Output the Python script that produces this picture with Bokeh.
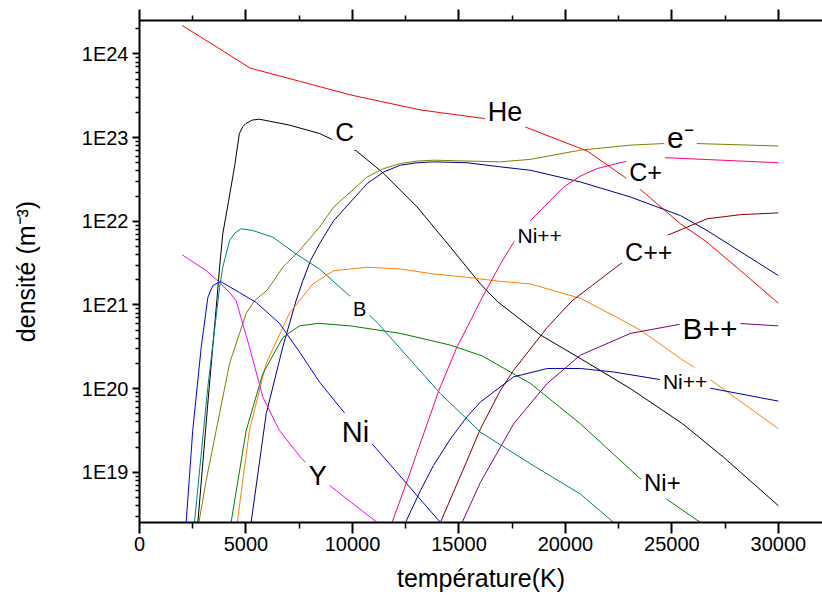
from bokeh.plotting import figure
from bokeh.models import Label, LinearAxis, FixedTicker
from bokeh.embed import file_html
from bokeh.resources import INLINE

# ---------------- data (temperature K, density m^-3) ----------------
he_T = [2000, 3650, 5200, 7560, 9900, 13200, 16100, 18080, 21020, 22770, 23520, 25400, 26650, 28220, 30000]
he_n = [2.19e24, 1.20e24, 6.76e23, 4.68e23, 3.24e23, 2.14e23, 1.70e23, 1.35e23, 6.92e22, 3.39e22, 2.40e22, 9.33e21, 5.62e21, 2.57e21, 1.05e21]

c_T = [2740, 3200, 3630, 3760, 3910, 4190, 4460, 4690, 4850, 5000, 5300, 5630, 7040, 8450, 10190, 11470, 13040, 14600, 16010, 16800, 18830, 20700, 23050, 25500, 27430, 30000]
c_n = [2.51e18, 6.31e19, 1.12e21, 2.82e21, 7.08e21, 1.78e22, 4.47e22, 1.12e23, 1.35e23, 1.48e23, 1.62e23, 1.66e23, 1.41e23, 1.12e23, 6.92e22, 3.72e22, 1.48e22, 4.90e21, 1.78e21, 1.10e21, 4.37e20, 2.29e20, 1.00e20, 3.80e19, 1.51e19, 3.98e18]

e_T = [2790, 3130, 3600, 4230, 5010, 5400, 6000, 6730, 7510, 8450, 9120, 10690, 11470, 12250, 13040, 13820, 15380, 16950, 18360, 20700, 23050, 24700, 26020, 30000]
e_n = [2.51e18, 7.94e18, 3.16e19, 2.00e20, 7.94e20, 1.12e21, 1.51e21, 2.82e21, 4.47e21, 8.51e21, 1.48e22, 3.39e22, 4.27e22, 4.90e22, 5.25e22, 5.37e22, 5.25e22, 5.13e22, 5.50e22, 7.08e22, 8.13e22, 8.51e22, 8.51e22, 7.94e22]

navy_T = [5240, 5950, 6730, 7350, 7670, 8030, 8450, 9120, 10690, 11470, 12250, 13040, 13820, 15380, 16950, 18360, 20700, 23050, 25400, 26650, 30000]
navy_n = [2.51e18, 5.01e19, 3.16e20, 1.12e21, 1.95e21, 3.39e21, 5.37e21, 1.02e22, 2.82e22, 3.89e22, 4.68e22, 5.01e22, 5.13e22, 5.01e22, 4.47e22, 4.07e22, 2.95e22, 1.95e22, 1.17e22, 7.76e21, 2.24e21]

b_T = [2580, 3200, 3760, 3910, 4230, 4480, 4770, 5320, 6260, 7350, 8450, 9900, 11190, 14130, 16010, 18360, 20700, 22270]
b_n = [2.51e18, 1.00e20, 1.62e21, 2.82e21, 5.89e21, 7.24e21, 8.13e21, 7.76e21, 6.46e21, 4.07e21, 2.69e21, 1.26e21, 6.03e20, 8.71e19, 3.02e19, 1.26e19, 5.50e18, 2.51e18]

orange_T = [4590, 5160, 5950, 7040, 8140, 9120, 10690, 12250, 13820, 15380, 16950, 18360, 20700, 22580, 23520, 25400, 26020, 26730, 30000]
orange_n = [2.51e18, 3.16e19, 2.00e20, 7.94e20, 1.78e21, 2.57e21, 2.82e21, 2.69e21, 2.34e21, 2.14e21, 1.91e21, 1.78e21, 1.20e21, 6.76e20, 5.01e20, 2.29e20, 1.82e20, 1.32e20, 3.31e19]

nip_T = [4300, 5010, 5790, 6730, 7510, 8400, 9900, 12250, 14600, 16100, 18360, 20700, 23440, 24800, 26340]
nip_n = [2.51e18, 3.16e19, 1.51e20, 4.07e20, 5.62e20, 6.03e20, 5.62e20, 4.57e20, 3.31e20, 2.45e20, 1.15e20, 3.80e19, 8.71e18, 4.68e18, 2.51e18]

ni_T = [2190, 2500, 2900, 3210, 3440, 3800, 4690, 5480, 6570, 7510, 8450, 9590, 10920, 14130]
ni_n = [2.51e18, 3.16e19, 3.16e20, 1.23e21, 1.70e21, 1.91e21, 1.41e21, 1.07e21, 6.03e20, 2.75e20, 1.20e20, 5.25e19, 2.19e19, 2.51e18]

y_T = [2000, 3130, 3760, 4230, 4540, 5160, 5790, 6570, 7560, 8730, 11160]
y_n = [3.98e21, 2.57e21, 1.86e21, 1.41e21, 1.12e21, 3.16e20, 7.94e19, 3.16e19, 1.51e19, 7.59e18, 2.51e18]

cp_T = [11860, 12570, 14060, 14910, 15540, 16010, 16950, 17570, 18360, 19920, 20700, 21490, 22740, 24700, 30000]
cp_n = [2.51e18, 7.94e18, 9.55e19, 3.16e20, 6.46e20, 1.12e21, 3.09e21, 5.62e21, 1.02e22, 2.57e22, 3.47e22, 4.27e22, 5.13e22, 5.75e22, 5.01e22]

cpp_T = [14130, 15380, 16010, 16950, 17570, 19140, 20310, 22580, 24770, 26650, 28220, 30000]
cpp_n = [2.51e18, 1.38e19, 3.31e19, 9.55e19, 1.66e20, 5.37e20, 1.12e21, 3.09e21, 6.76e21, 1.07e22, 1.20e22, 1.26e22]

bpp_T = [15150, 16010, 16950, 17570, 19140, 20700, 23050, 25400, 28060, 30000]
bpp_n = [2.51e18, 7.59e18, 2.00e19, 3.80e19, 1.15e20, 2.51e20, 4.57e20, 5.89e20, 6.03e20, 5.62e20]

nipp_T = [12490, 13190, 13800, 14600, 15400, 16010, 17560, 19150, 20700, 22270, 24380, 26730, 30000]
nipp_n = [2.51e18, 6.03e18, 1.20e19, 2.51e19, 4.68e19, 6.92e19, 1.38e20, 1.74e20, 1.74e20, 1.58e20, 1.29e20, 1.02e20, 7.08e19]

# curve labels and their positions (T, density)
label_texts = ["He", "C", "e\u207b", "C+", "Ni++", "C++", "B", "B++", "Ni++", "Ni", "Y", "Ni+"]
label_T = [17160, 9630, 25400, 23760, 18790, 23910, 10340, 26790, 25620, 10140, 8370, 24550]
label_n = [2.04e23, 1.17e23, 1.00e23, 3.89e22, 6.76e21, 4.27e21, 8.91e20, 5.25e20, 1.20e20, 3.02e19, 9.12e18, 7.59e18]

x_ticks = [0, 5000, 10000, 15000, 20000, 25000, 30000]
x_minor_ticks = [2500, 7500, 12500, 17500, 22500, 27500]
y_ticks = [1e19, 1e20, 1e21, 1e22, 1e23, 1e24]
y_tick_labels = ["1E19", "1E20", "1E21", "1E22", "1E23", "1E24"]

# ---------------- styles ----------------
series = [
    (he_T, he_n, "#ff0000"),
    (c_T, c_n, "#000000"),
    (e_T, e_n, "#808000"),
    (navy_T, navy_n, "#000080"),
    (b_T, b_n, "#008080"),
    (orange_T, orange_n, "#ff8000"),
    (nip_T, nip_n, "#008000"),
    (ni_T, ni_n, "#0000ff"),
    (y_T, y_n, "#ff00ff"),
    (cp_T, cp_n, "#ff0080"),
    (cpp_T, cpp_n, "#800000"),
    (bpp_T, bpp_n, "#800080"),
    (nipp_T, nipp_n, "#0000a0"),
]
label_sizes = [27, 26, 30, 25, 21, 25, 20, 30, 21, 29, 27, 24]

FONT = "Liberation Sans"

p = figure(width=822, height=602, y_axis_type="log",
           x_range=(0, 32070), y_range=(2.51e18, 2.51e24),
           output_backend="svg", toolbar_location=None,
           min_border_left=139, min_border_top=20, min_border_right=0, min_border_bottom=80)
p.outline_line_color = None
p.xgrid.visible = False
p.ygrid.visible = False
p.background_fill_color = "white"
p.border_fill_color = "white"

for T, n, col in series:
    p.line(T, n, line_color=col, line_width=1)

for txt, tx, ny, fs in zip(label_texts, label_T, label_n, label_sizes):
    p.add_layout(Label(x=tx, y=ny, text=txt, text_align="center", text_baseline="middle",
                       text_font=FONT, text_font_size=f"{fs}px", text_color="black",
                       background_fill_color="white", padding=3))

# x axis (bottom)
xa = p.xaxis[0]
xa.ticker = FixedTicker(ticks=x_ticks, minor_ticks=x_minor_ticks)
xa.axis_label = "température(K)"
xa.axis_label_text_font = FONT
xa.axis_label_text_font_size = "25px"
xa.axis_label_text_font_style = "normal"
xa.axis_label_text_color = "black"
xa.axis_label_standoff = 10
xa.major_label_text_font = FONT
xa.major_label_text_font_size = "20px"
xa.major_label_text_color = "black"
xa.major_label_standoff = 3
xa.axis_line_width = 2
xa.major_tick_line_width = 2
xa.minor_tick_line_width = 1.5
xa.major_tick_out = 11
xa.major_tick_in = 0
xa.minor_tick_out = 6
xa.minor_tick_in = 0

# y axis (left)
ya = p.yaxis[0]
minor = [k * 10.0 ** d for d in range(18, 25) for k in range(2, 10) if 2.51e18 <= k * 10.0 ** d <= 2.51e24]
ya.ticker = FixedTicker(ticks=y_ticks, minor_ticks=minor)
ya.major_label_overrides = dict(zip(y_ticks, y_tick_labels))
ya.axis_label = "densité (m\u207b\u00b3)"
ya.axis_label_text_font = FONT
ya.axis_label_text_font_size = "25px"
ya.axis_label_text_font_style = "normal"
ya.axis_label_text_color = "black"
ya.axis_label_standoff = 39
ya.major_label_text_font = FONT
ya.major_label_text_font_size = "20px"
ya.major_label_text_color = "black"
ya.major_label_standoff = 4
ya.axis_line_width = 2
ya.major_tick_line_width = 2
ya.minor_tick_line_width = 1.5
ya.major_tick_out = 7
ya.major_tick_in = 0
ya.minor_tick_out = 4
ya.minor_tick_in = 0

# top axis (ticks only, no labels)
top = LinearAxis(ticker=FixedTicker(ticks=x_ticks, minor_ticks=x_minor_ticks),
                 major_label_text_color=None, major_label_standoff=0,
                 axis_line_width=2, major_tick_line_width=2, minor_tick_line_width=1.5,
                 major_tick_out=11, major_tick_in=0, minor_tick_out=5, minor_tick_in=0)
p.add_layout(top, "above")

open("out.html", "w").write(file_html(p, INLINE))
